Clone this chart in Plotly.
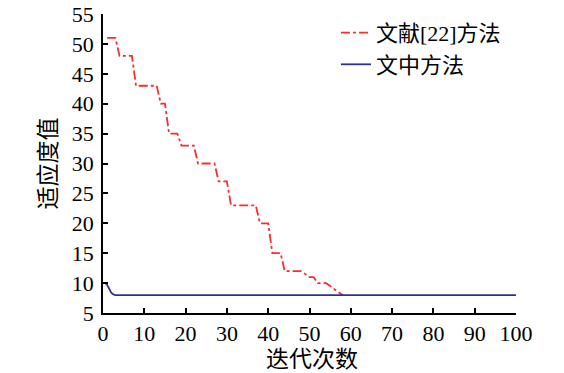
import plotly.graph_objects as go

# Data
ref_iter = [1, 2, 3, 4, 5, 6, 7, 8, 9, 10, 11, 12, 13, 14, 15, 16, 17, 18, 19, 20,
            21, 22, 23, 24, 25, 26, 27, 28, 29, 30, 31, 32, 33, 34, 35, 36, 37, 38, 39, 40,
            41, 42, 43, 44, 45, 46, 47, 48, 49, 50, 51, 52, 53, 54, 55, 56, 57, 58]
ref_vals = [51, 51, 51, 48, 48, 48, 48, 43, 43, 43, 43, 43, 43, 40, 40, 35, 35, 35, 33, 33,
            33, 33, 30, 30, 30, 30, 30, 27, 27, 27, 23, 23, 23, 23, 23, 23, 23, 20, 20, 20,
            15, 15, 15, 12, 12, 12, 12, 12, 11.5, 11, 11, 10, 10, 10, 9.5, 9, 8.5, 8]

our_iter = [0, 0.5, 1, 1.5, 2, 2.5, 3, 100]
our_vals = [10, 10, 9.7, 9.0, 8.4, 8.1, 8, 8]

x_ticks = [0, 10, 20, 30, 40, 50, 60, 70, 80, 90, 100]
y_ticks = [5, 10, 15, 20, 25, 30, 35, 40, 45, 50, 55]

x_title = "迭代次数"
y_title = "适应度值"

FONT = "Liberation Serif, Times New Roman, Noto Sans CJK SC, serif"

fig = go.Figure()
fig.add_trace(go.Scatter(x=ref_iter, y=ref_vals, mode="lines", name="文献[22]方法",
                         line=dict(color="#FF2A2A", width=1.8, dash="dashdot")))
fig.add_trace(go.Scatter(x=our_iter, y=our_vals, mode="lines", name="文中方法",
                         line=dict(color="#2E3192", width=1.8)))

axis_common = dict(showline=True, linecolor="black", linewidth=1.5, ticks="inside",
                   ticklen=5, tickwidth=1.5, tickcolor="black", showgrid=False,
                   zeroline=False, mirror=False, automargin=False,
                   ticklabeloverflow="allow",
                   tickfont=dict(family=FONT, size=22, color="black"))

fig.update_xaxes(range=[0, 100], tickvals=x_ticks, **axis_common)
fig.update_yaxes(range=[5, 55], tickvals=y_ticks, ticklabelstandoff=3, **axis_common)

fig.add_annotation(text=x_title, xref="paper", yref="paper", x=0.505, y=-0.157,
                   xanchor="center", yanchor="middle", showarrow=False,
                   font=dict(family=FONT, size=23, color="black"))
fig.add_annotation(text=y_title, xref="paper", yref="paper", x=-0.133, y=0.5,
                   xanchor="center", yanchor="middle", showarrow=False, textangle=-90,
                   font=dict(family=FONT, size=23, color="black"))

fig.update_layout(
    width=564, height=373,
    margin=dict(l=103, r=48, t=14, b=60, autoexpand=False),
    plot_bgcolor="white", paper_bgcolor="white",
    font=dict(family=FONT, color="black"),
    legend=dict(x=0.564, y=1.007, xanchor="left", yanchor="top",
                bgcolor="rgba(0,0,0,0)", font=dict(family=FONT, size=22, color="black"),
                tracegroupgap=0),
)

fig.write_html("out.html", config={"displayModeBar": False},
               post_script="document.body.style.margin='0';document.body.style.padding='0';")
